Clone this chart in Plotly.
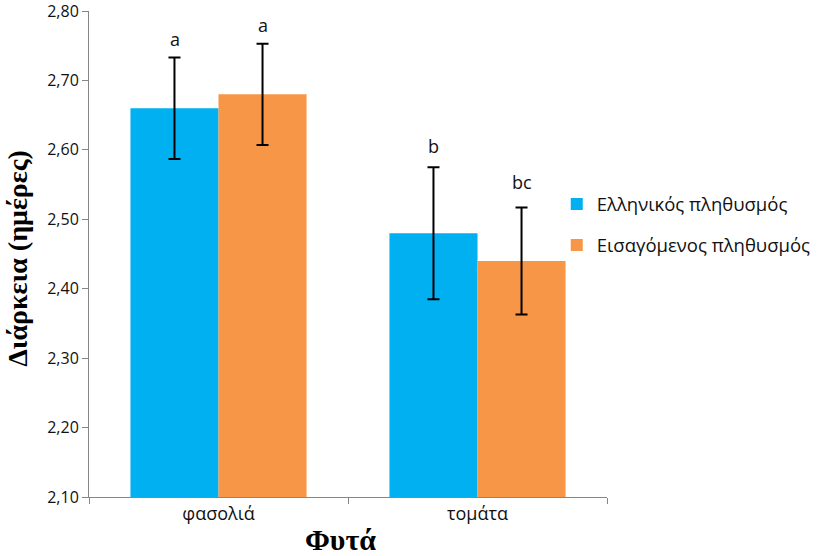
import plotly.graph_objects as go

categories = ["φασολιά", "τομάτα"]
series_names = ["Ελληνικός πληθυσμός", "Εισαγόμενος πληθυσμός"]
greek_values = [2.66, 2.48]
imported_values = [2.68, 2.44]
greek_err = [0.073, 0.095]
imported_err = [0.073, 0.077]
greek_letters = ["a", "b"]
imported_letters = ["a", "bc"]
greek_letter_y = [2.760, 2.606]
imported_letter_y = [2.780, 2.553]
y_ticks = [2.10, 2.20, 2.30, 2.40, 2.50, 2.60, 2.70, 2.80]
colors = ["#00B0F0", "#F79646"]

font_family = "Open Sans, Liberation Sans, sans-serif"
serif = "Liberation Serif, Times New Roman, serif"

fig = go.Figure()
for k, (name, vals, errs, col) in enumerate([
    (series_names[0], greek_values, greek_err, colors[0]),
    (series_names[1], imported_values, imported_err, colors[1]),
]):
    fig.add_trace(go.Bar(
        x=categories, y=vals, name=name, legendgroup=f"g{k}",
        marker=dict(color=col, line=dict(width=0)),
        error_y=dict(type="data", array=errs, visible=True, color="black", thickness=2, width=6),
    ))

annotations = []
for i, cat in enumerate(categories):
    annotations.append(dict(x=cat, y=greek_letter_y[i], text=greek_letters[i],
                            xref="x", yref="y", showarrow=False, xshift=-44,
                            font=dict(size=18, color="#111", family=font_family)))
    annotations.append(dict(x=cat, y=imported_letter_y[i], text=imported_letters[i],
                            xref="x", yref="y", showarrow=False, xshift=44,
                            font=dict(size=18, color="#111", family=font_family)))

annotations.append(dict(text="<b>Διάρκεια (ημέρες)</b>", textangle=-90, xref="paper", yref="paper",
                        x=0, y=0.490, xshift=-71, xanchor="center", yanchor="middle", showarrow=False,
                        font=dict(family=serif, size=28, color="black")))
annotations.append(dict(text="<b>Φυτά</b>", xref="paper", yref="paper",
                        x=0.5, y=0, yshift=-24, xshift=-8, xanchor="center", yanchor="top", showarrow=False,
                        font=dict(family=serif, size=30, color="black")))

fig.update_layout(
    width=819, height=556,
    margin=dict(l=89, r=212, t=11, b=59, autoexpand=False),
    paper_bgcolor="white", plot_bgcolor="white",
    separators=", ",
    barmode="group", bargap=0.32, bargroupgap=0,
    font=dict(family=font_family, size=15, color="#111"),
    annotations=annotations,
    showlegend=True,
    legend=dict(x=0.903, y=0.641, xanchor="left", yanchor="top", tracegroupgap=14,
                font=dict(size=18.5, color="#111", family=font_family),
                itemwidth=30, bgcolor="rgba(0,0,0,0)"),
    xaxis=dict(
        automargin=False,
        showline=True, linecolor="#868686", linewidth=1,
        ticks="outside", tickson="boundaries", ticklen=6, tickcolor="#868686",
        tickfont=dict(size=18, color="#111", family=font_family),
    ),
    yaxis=dict(
        automargin=False,
        range=[2.10, 2.80], tickvals=y_ticks, tickformat=".2f",
        ticklabeloverflow="allow",
        showline=True, linecolor="#868686", linewidth=1, showgrid=False, zeroline=False,
        ticks="outside", ticklen=6, tickcolor="#868686",
        tickfont=dict(size=16, color="#111", family=font_family),
    ),
)

fig.write_html("out.html", config={"displayModeBar": False},
               post_script="document.body.style.margin='0px';")
